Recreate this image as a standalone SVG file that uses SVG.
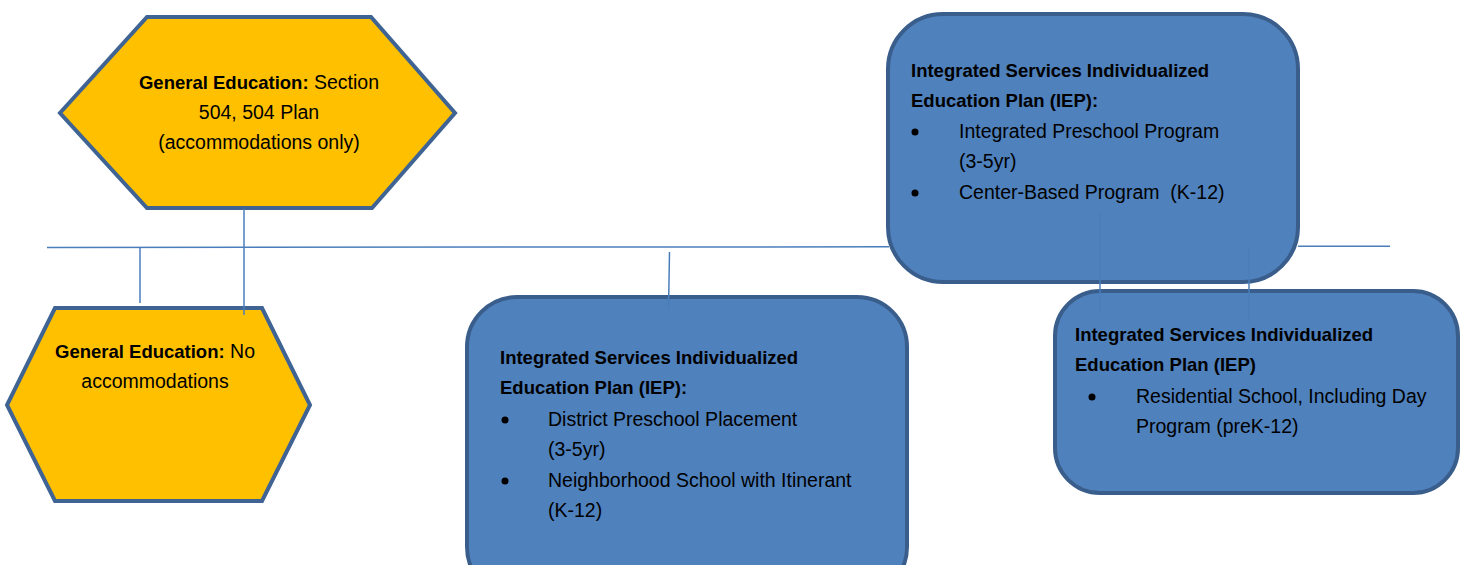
<svg xmlns="http://www.w3.org/2000/svg" width="1464" height="565" viewBox="0 0 1464 565">
<style>
.hex{fill:#FFC000;stroke:#3F6494;stroke-width:4;stroke-linejoin:miter}
.box{fill:#4F81BD;stroke:#3A5E8C;stroke-width:4}
text{font-family:"Liberation Sans",Arial,sans-serif;font-size:19.5px;fill:#000}
.b{font-weight:bold;font-size:18.5px}
.c{text-anchor:middle}
.conn{stroke:#4A7EBB;stroke-width:1.5;fill:none}
</style>
<rect width="1464" height="565" fill="#fff"/>
<g id="node-gen504">
<polygon class="hex" points="147,17 371,17 455,113 372,208 147,208 60,113"/>
<text class="c" x="259" y="89"><tspan class="b">General Education:</tspan> Section</text>
<text class="c" x="259" y="119">504, 504 Plan</text>
<text class="c" x="259" y="149">(accommodations only)</text>
</g>
<g id="node-gen-none">
<polygon class="hex" points="55,308 262,308 310,405 262,501 55,501 7,405"/>
<text class="c" x="155" y="358"><tspan class="b">General Education:</tspan> No</text>
<text class="c" x="155" y="388">accommodations</text>
</g>
<g id="node-iep-district">
<rect class="box" x="467" y="297" width="440" height="300" rx="50" ry="50"/>
<text class="b" x="500" y="364">Integrated Services Individualized</text>
<text class="b" x="500" y="394">Education Plan (IEP):</text>
<circle cx="505" cy="420" r="3.5" fill="#000"/>
<text x="548" y="426">District Preschool Placement</text>
<text x="548" y="456">(3-5yr)</text>
<circle cx="505" cy="481" r="3.5" fill="#000"/>
<text x="548" y="487">Neighborhood School with Itinerant</text>
<text x="548" y="517">(K-12)</text>
</g>
<g id="node-iep-integrated">
<rect class="box" x="888" y="14" width="410" height="268" rx="55" ry="55"/>
<text class="b" x="911" y="77">Integrated Services Individualized</text>
<text class="b" x="911" y="107">Education Plan (IEP):</text>
<circle cx="915" cy="132" r="3.5" fill="#000"/>
<text x="959" y="138">Integrated Preschool Program</text>
<text x="959" y="168">(3-5yr)</text>
<circle cx="915" cy="193" r="3.5" fill="#000"/>
<text x="959" y="199" xml:space="preserve">Center-Based Program  (K-12)</text>
</g>
<g id="node-iep-residential">
<rect class="box" x="1055" y="291" width="403" height="202" rx="45" ry="45"/>
<text class="b" x="1075" y="341">Integrated Services Individualized</text>
<text class="b" x="1075" y="371">Education Plan (IEP)</text>
<circle cx="1092" cy="397" r="3.5" fill="#000"/>
<text x="1136" y="403">Residential School, Including Day</text>
<text x="1136" y="433">Program (preK-12)</text>
</g>
<g id="connectors">
<line class="conn" x1="47" y1="247.5" x2="889" y2="246.8"/>
<line class="conn" x1="1298" y1="246.3" x2="1390" y2="246.3"/>
<line class="conn" x1="140" y1="247" x2="140" y2="303"/>
<line class="conn" x1="244" y1="209" x2="244" y2="315"/>
<line class="conn" x1="669.5" y1="252" x2="668.5" y2="310"/>
<line class="conn" x1="1100" y1="212" x2="1100" y2="313"/>
<line class="conn" x1="1249" y1="247" x2="1249" y2="322"/>
</g>
</svg>
